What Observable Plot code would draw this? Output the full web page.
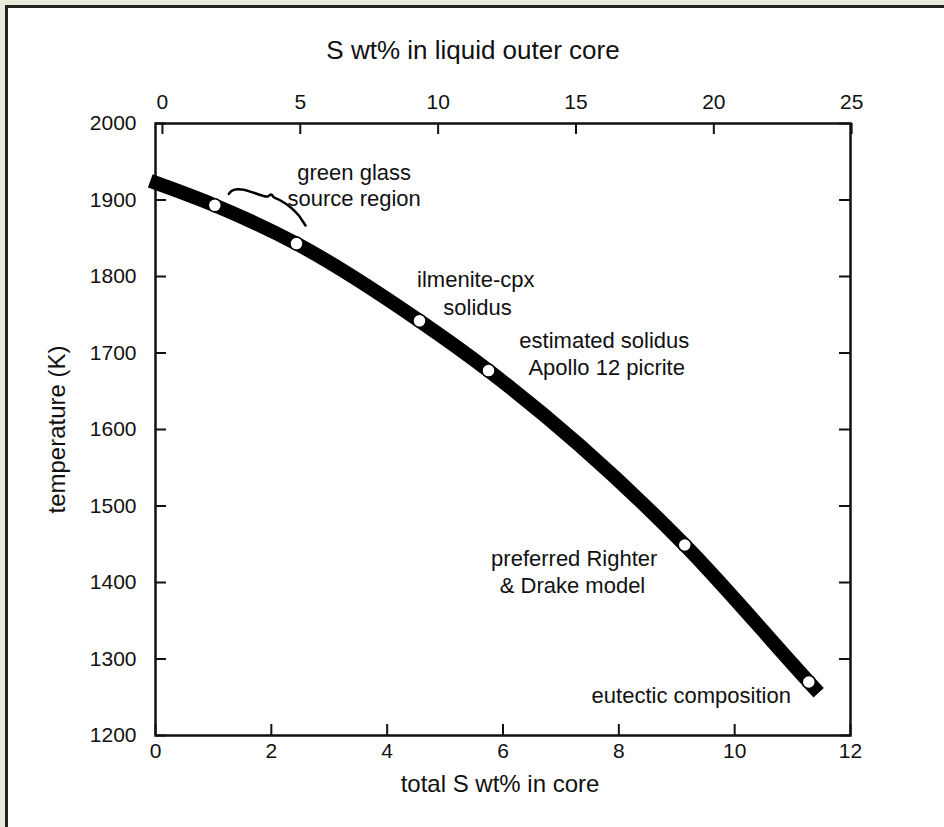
<!DOCTYPE html>
<html><head><meta charset="utf-8">
<script src="https://cdn.jsdelivr.net/npm/d3@7"></script>
<script src="https://cdn.jsdelivr.net/npm/@observablehq/plot@0.6"></script>
<style>
html,body{margin:0;padding:0;background:#e9ecdb;overflow:hidden;}
#wrap{position:absolute;left:0;top:0;width:944px;height:827px;overflow:hidden;}
#panel{position:absolute;left:5px;top:5px;width:960px;height:850px;background:#fff;border-left:3px solid #222;border-top:3px solid #222;}
#chart{position:absolute;left:0;top:0;}
</style></head><body>
<div id="wrap"><div id="panel"></div><div id="chart"></div></div>
<script>
// Thick solidus curve (total S wt% in core vs temperature K)
const curveS = [-0.09, 1.024, 2.434, 4.558, 5.75, 9.138, 11.28, 11.45];
const curveT = [1925, 1893, 1843, 1742, 1677, 1449, 1270, 1256];
// Open circles on the curve
const pointS = [1.024, 2.434, 4.558, 5.75, 9.138, 11.28];
const pointT = [1893, 1843, 1742, 1677, 1449, 1270];
// Tick values
const xTicks = [0, 2, 4, 6, 8, 10, 12];
const yTicks = [1200, 1300, 1400, 1500, 1600, 1700, 1800, 1900, 2000];
const topTicks = [0, 5, 10, 15, 20, 25];
// liquid outer core S wt% -> total S wt% in core (top axis relation)
const topOffset = 0.12, topSlope = 0.476;
// Annotations
const annoText = ["green glass", "source region", "ilmenite-cpx", "solidus",
  "estimated solidus", "Apollo 12 picrite", "preferred Righter", "& Drake model", "eutectic composition"];
const annoX = [3.43, 3.43, 5.53, 5.56, 7.75, 7.79, 7.23, 7.2, 9.25];
const annoY = [1936, 1902, 1795, 1759, 1716, 1681, 1431, 1396, 1252];
// Curly brace under "green glass source region"
const braceS = [1.266, 1.307, 1.381, 1.525, 1.697, 1.842, 1.929, 1.998, 2.042, 2.158, 2.331, 2.474, 2.533, 2.590];
const braceT = [1908, 1911.5, 1913.7, 1913.3, 1909.4, 1905.8, 1904.5, 1907.2, 1903.6, 1899.3, 1890.6, 1879.7, 1873.2, 1866.6];

const W = 944, H = 827, mL = 155, mR = 94, mT = 123, mB = 92;
const iW = W - mL - mR, iH = H - mT - mB, tickLen = 11;
const font = "'Liberation Sans', Arial, Helvetica, sans-serif";
const topToTotal = v => topOffset + v * topSlope;
const idx = a => a.map((_, i) => i);

const chart = Plot.plot({
  width: W, height: H,
  marginLeft: mL, marginRight: mR, marginTop: mT, marginBottom: mB,
  x: {domain: [0, 12]},
  y: {domain: [1200, 2000]},
  style: {background: "transparent", fontFamily: font, fontSize: "21px", color: "#111"},
  marks: [
    Plot.axisX({ticks: xTicks, tickSize: 0, tickPadding: 8, label: null, fontSize: 21, tickFormat: d => String(d)}),
    Plot.axisY({ticks: yTicks, tickSize: 0, tickPadding: 19, label: null, fontSize: 21, tickFormat: d => String(d)}),
    Plot.tickX(xTicks, {x: d => d, insetTop: iH - tickLen, strokeWidth: 2, stroke: "#111"}),
    Plot.tickY(yTicks, {y: d => d, insetRight: iW - tickLen, strokeWidth: 2, stroke: "#111"}),
    Plot.tickY(yTicks, {y: d => d, insetLeft: iW - tickLen, strokeWidth: 2, stroke: "#111"}),
    Plot.tickX(topTicks, {x: topToTotal, insetBottom: iH - tickLen, strokeWidth: 2, stroke: "#111"}),
    Plot.text(topTicks, {x: topToTotal, frameAnchor: "top", dy: -21, text: d => String(d), fontSize: 21, lineAnchor: "middle", textAnchor: "middle"}),
    Plot.frame({stroke: "#111", strokeWidth: 2.5}),
    Plot.text(["S wt% in liquid outer core"], {frameAnchor: "top", dy: -73, dx: -30, text: d => d, fontSize: 26, lineAnchor: "middle", textAnchor: "middle"}),
    Plot.text(["total S wt% in core"], {frameAnchor: "bottom", dy: 49, dx: -3, text: d => d, fontSize: 24, lineAnchor: "middle", textAnchor: "middle"}),
    Plot.text(["temperature (K)"], {frameAnchor: "left", dx: -98, rotate: -90, text: d => d, fontSize: 24, lineAnchor: "middle", textAnchor: "middle"}),
    Plot.line(idx(curveS), {x: i => curveS[i], y: i => curveT[i], curve: "monotone-x", stroke: "#000", strokeWidth: 14, strokeLinecap: "butt"}),
    Plot.line(idx(braceS), {x: i => braceS[i], y: i => braceT[i], curve: "catmull-rom", stroke: "#000", strokeWidth: 2.5, strokeLinecap: "round"}),
    Plot.dot(idx(pointS), {x: i => pointS[i], y: i => pointT[i], r: 6.5, fill: "#fff", stroke: "#000", strokeWidth: 1.5}),
    Plot.text(idx(annoText), {x: i => annoX[i], y: i => annoY[i], text: i => annoText[i], fontSize: 22, fill: "#111"})
  ]
});
document.getElementById("chart").appendChild(chart);
</script>
</body></html>
